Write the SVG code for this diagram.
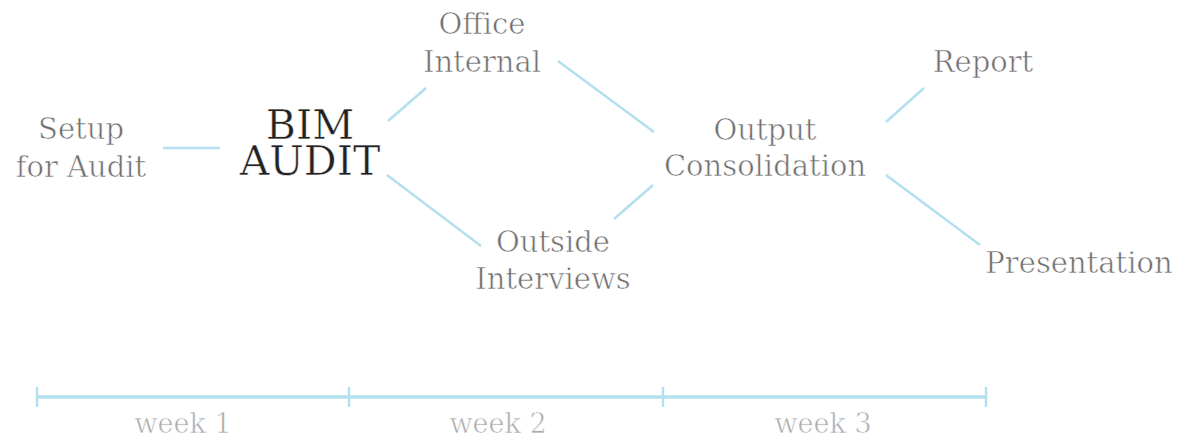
<svg xmlns="http://www.w3.org/2000/svg" width="1191" height="437" viewBox="0 0 1191 437">
<style>
text{font-family:"DejaVu Serif","Liberation Serif",serif;text-anchor:middle;stroke:#fff;stroke-width:0.6;}
.n{font-size:29px;fill:#6e6e6e;}
.m{font-size:41px;fill:#222;stroke-width:0.5;}
.w{font-size:27px;fill:#aaa;}
.c line{stroke:#b2e0ee;stroke-width:2.5;}
.t line{stroke:#b2e0ee;stroke-width:3.5;}
.t line.k{stroke-width:2.5;}
</style>
<rect width="1191" height="437" fill="#fff"/>
<g class="c" id="connectors">
<line x1="163" y1="148" x2="220" y2="148"/>
<line x1="388" y1="121" x2="426" y2="88"/>
<line x1="558" y1="61" x2="654" y2="132"/>
<line x1="387" y1="175" x2="481" y2="246"/>
<line x1="614" y1="219" x2="653" y2="185"/>
<line x1="886" y1="122" x2="924" y2="88"/>
<line x1="886" y1="175" x2="980" y2="245"/>
</g>
<g id="setup"><text class="n" x="81" y="139">Setup</text><text class="n" x="81" y="177">for Audit</text></g>
<g id="bim"><text class="m" x="310" y="139">BIM</text><text class="m" x="310" y="175">AUDIT</text></g>
<g id="office"><text class="n" x="482" y="34">Office</text><text class="n" x="482" y="72">Internal</text></g>
<g id="outside"><text class="n" x="553" y="252">Outside</text><text class="n" x="553" y="289">Interviews</text></g>
<g id="output"><text class="n" x="765" y="140">Output</text><text class="n" x="765" y="176">Consolidation</text></g>
<g id="report"><text class="n" x="983" y="72">Report</text></g>
<g id="presentation"><text class="n" x="1079" y="273">Presentation</text></g>
<g class="t" id="timeline">
<line x1="36" y1="397" x2="987" y2="397"/>
<line class="k" x1="37" y1="387" x2="37" y2="407"/>
<line class="k" x1="349" y1="387" x2="349" y2="407"/>
<line class="k" x1="663" y1="387" x2="663" y2="407"/>
<line class="k" x1="986" y1="387" x2="986" y2="407"/>
<text class="w" x="183" y="433">week 1</text>
<text class="w" x="498" y="433">week 2</text>
<text class="w" x="823" y="433">week 3</text>
</g>
</svg>
